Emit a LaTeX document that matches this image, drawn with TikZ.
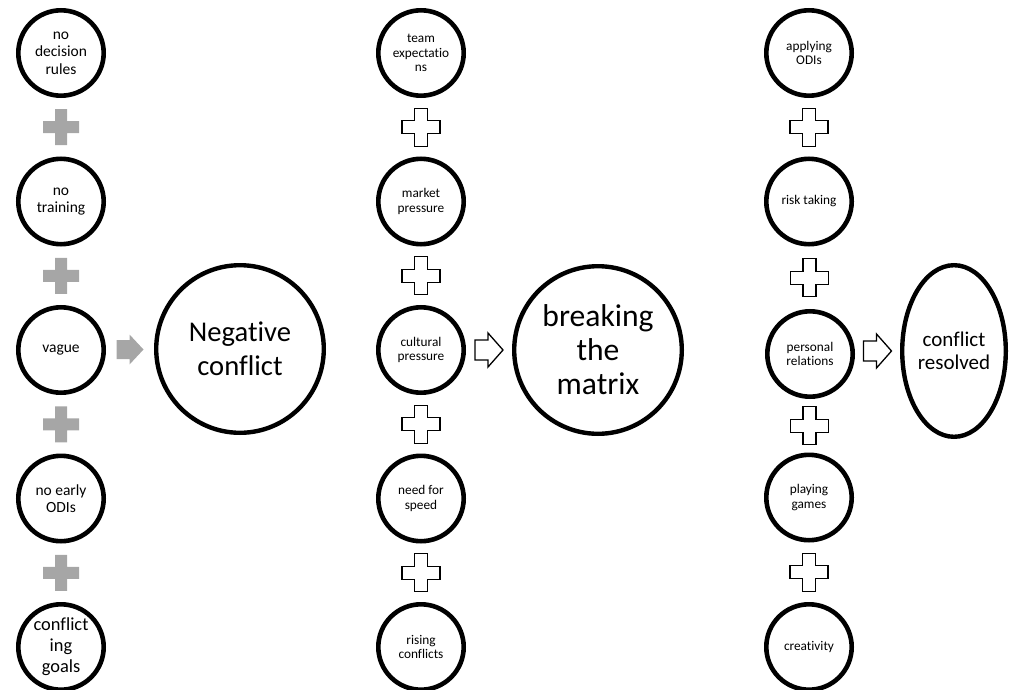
\documentclass[tikz,border=0pt]{standalone}
\usepackage{fontspec}
\setmainfont{Carlito}[Ligatures=NoCommon]
\usetikzlibrary{shapes.geometric,calc}
\definecolor{softgray}{RGB}{166,166,166}

\begin{document}
\begin{tikzpicture}[x=1pt,y=-1pt,
  ring/.style={circle, draw=black, line width=4.6pt, minimum size=85.4pt, inner sep=0pt, align=center},
  bigring/.style={circle, draw=black, line width=4.4pt, minimum size=167.6pt, inner sep=0pt, align=center},
  fontA/.style={font=\fontsize{15.5}{17.5}\selectfont},
  fontB/.style={font=\fontsize{13.3}{14.2}\selectfont},
  grayplus/.pic={\path[fill=softgray] (-6,-18) -- (6,-18) -- (6,-6) -- (18,-6) -- (18,6) -- (6,6) -- (6,18) -- (-6,18) -- (-6,6) -- (-18,6) -- (-18,-6) -- (-6,-6) -- cycle;},
  lineplus/.pic={\path[draw=black, fill=white, line width=1.3pt, line join=miter] (-6.5,-19) -- (6.5,-19) -- (6.5,-6.5) -- (19,-6.5) -- (19,6.5) -- (6.5,6.5) -- (6.5,19) -- (-6.5,19) -- (-6.5,6.5) -- (-19,6.5) -- (-19,-6.5) -- (-6.5,-6.5) -- cycle;},
  grayarrow/.pic={\path[fill=softgray] (-13.5,-9.5) -- (-0.5,-9.5) -- (-0.5,-15) -- (13.5,0) -- (-0.5,15) -- (-0.5,9.5) -- (-13.5,9.5) -- cycle;},
  linearrow/.pic={\path[draw=black, fill=white, line width=1.3pt, line join=miter] (-14,-10) -- (-1,-10) -- (-1,-17) -- (14,0) -- (-1,17) -- (-1,10) -- (-14,10) -- cycle;}
]
\useasboundingbox (0,0) rectangle (1009,690);

% causes of negative conflict
\node[ring, fontA] (a1) at (61,53)    {no\\decision\\rules};
\node[ring, fontA] (a2) at (61,201.5) {no\\training};
\node[ring, fontA] (a3) at (61,350)   {vague};
\node[ring, fontA] (a4) at (61,498.5) {no early\\ODIs};
\node[ring, font=\fontsize{18.4}{21}\selectfont] (a5) at (61,647) {conflict\\ing\\goals};
\node[bigring, font=\fontsize{28.6}{34}\selectfont] (neg) at (240,349) {Negative\\conflict};

% pressures leading to breaking the matrix
\node[ring, fontB] (b1) at (421,53)    {team\\expectatio\\ns};
\node[ring, fontB] (b2) at (421,201.5) {market\\pressure};
\node[ring, fontB] (b3) at (421,350)   {cultural\\pressure};
\node[ring, fontB] (b4) at (421,498.5) {need for\\speed};
\node[ring, fontB] (b5) at (421,647)   {rising\\conflicts};
\node[bigring, font=\fontsize{31.6}{34}\selectfont] (brk) at (598,350) {breaking\\the\\matrix};

% practices leading to resolution
\node[ring, fontB] (c1) at (809,53)    {applying\\ODIs};
\node[ring, fontB] (c2) at (809,201.5) {risk taking};
\node[ring, fontB] (c3) at (810,354)   {personal\\relations};
\node[ring, fontB] (c4) at (809,497.5) {playing\\games};
\node[ring, fontB] (c5) at (809,647)   {creativity};
\node[ellipse, draw=black, line width=4.4pt, minimum width=103.6pt, minimum height=171.6pt, inner sep=0pt, align=center,
      font=\fontsize{21}{23}\selectfont] (res) at (954,351) {conflict\\resolved};

% plus signs between the circles of each column
\foreach \u/\v in {a1/a2, a2/a3, a3/a4, a4/a5}
  \pic at ($(\u)!0.5!(\v)$) {grayplus};
\foreach \u/\v in {b1/b2, b2/b3, b3/b4, b4/b5, c1/c2, c2/c3, c3/c4, c4/c5}
  \pic at ($(\u)!0.5!(\v)$) {lineplus};

% block arrows into the outcomes
\pic at ($(a3.east)!0.5!(neg.west)$) {grayarrow};
\pic at ($(b3.east)!0.5!(brk.west)$) {linearrow};
\pic at ($(c3.east |- res.west)!0.5!(res.west)$) {linearrow};
\end{tikzpicture}
\end{document}
